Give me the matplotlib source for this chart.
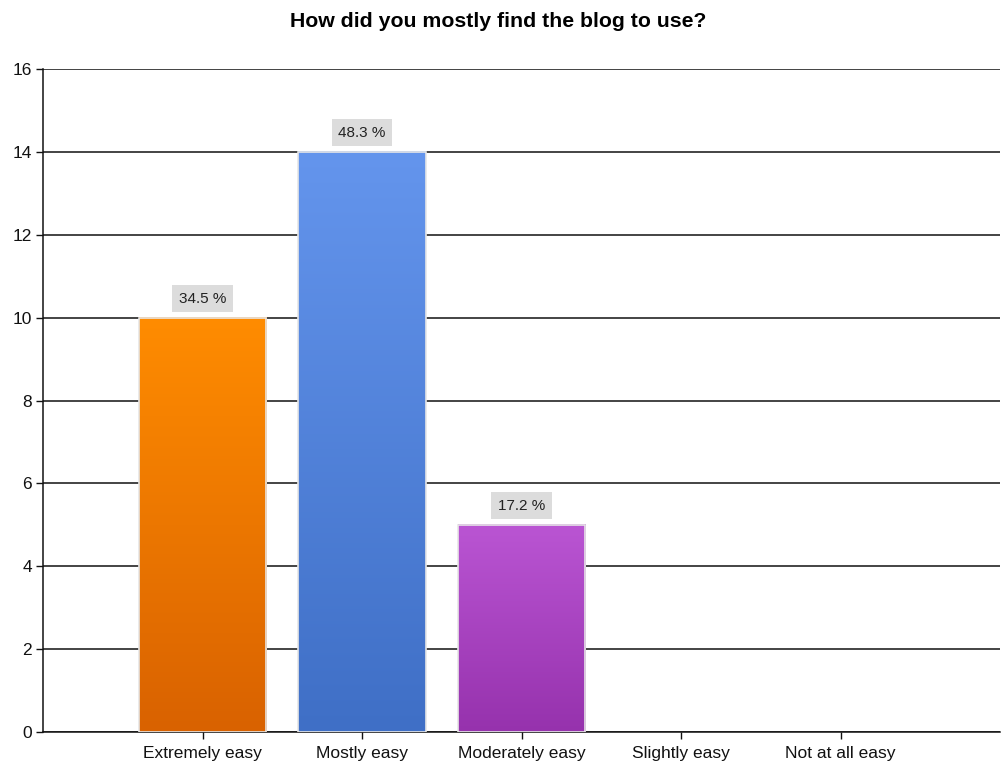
import numpy as np
import matplotlib.pyplot as plt
from matplotlib.colors import LinearSegmentedColormap

plt.rcParams['font.family'] = ['Liberation Sans', 'DejaVu Sans']

categories = ["Extremely easy", "Mostly easy", "Moderately easy", "Slightly easy", "Not at all easy"]
counts = [10, 14, 5, 0, 0]
pct_labels = ["34.5 %", "48.3 %", "17.2 %", "", ""]
# top / bottom colour of each bar gradient
top_colors = ["#ff8c00", "#6495ed", "#ba55d3", "#ffffff", "#ffffff"]
bottom_colors = ["#d96200", "#3f6fc6", "#9632ad", "#ffffff", "#ffffff"]

fig = plt.figure(figsize=(10.01, 7.65), dpi=100)
ax = fig.add_axes([0.043, 0.0431, 0.956, 0.8667])

x = np.arange(len(categories))
width = 0.8
grad = np.linspace(0, 1, 256).reshape(-1, 1)

for xi, h, lab, c1, c2 in zip(x, counts, pct_labels, top_colors, bottom_colors):
    if h <= 0:
        continue
    cmap = LinearSegmentedColormap.from_list("g", [c2, c1])
    ax.imshow(grad, cmap=cmap, origin="lower", aspect="auto",
              extent=(xi - width / 2, xi + width / 2, 0, h), zorder=3)
    ax.bar(xi, h, width=width, facecolor="none", edgecolor="#e6e6e6",
           linewidth=1.2, zorder=4)
    ax.text(xi, h + 0.46, lab, ha="center", va="center", fontsize=11,
            color="#222222", zorder=5,
            bbox=dict(boxstyle="square,pad=0.42", facecolor="#dcdcdc", edgecolor="none"))

ax.set_xlim(-1, 5)
ax.set_ylim(0, 16)
ax.set_xticks(x)
ax.set_xticklabels(categories, fontsize=12.5)
ax.set_yticks(np.arange(0, 17, 2))
ax.tick_params(axis="y", labelsize=12.5, length=5, width=1, pad=3, colors="#111111")
ax.tick_params(axis="x", length=5, width=1, pad=5, colors="#111111")
ax.grid(axis="y", color="#111111", linewidth=1.1, zorder=1)
ax.set_axisbelow(True)

for s in ["top", "right"]:
    ax.spines[s].set_visible(False)
for s in ["left", "bottom"]:
    ax.spines[s].set_color("#111111")
    ax.spines[s].set_linewidth(1.1)

fig.text(0.498, 0.9725, "How did you mostly find the blog to use?", ha="center", va="center",
         fontsize=15.3, fontweight="bold")

fig.savefig("out.png", dpi=100)
